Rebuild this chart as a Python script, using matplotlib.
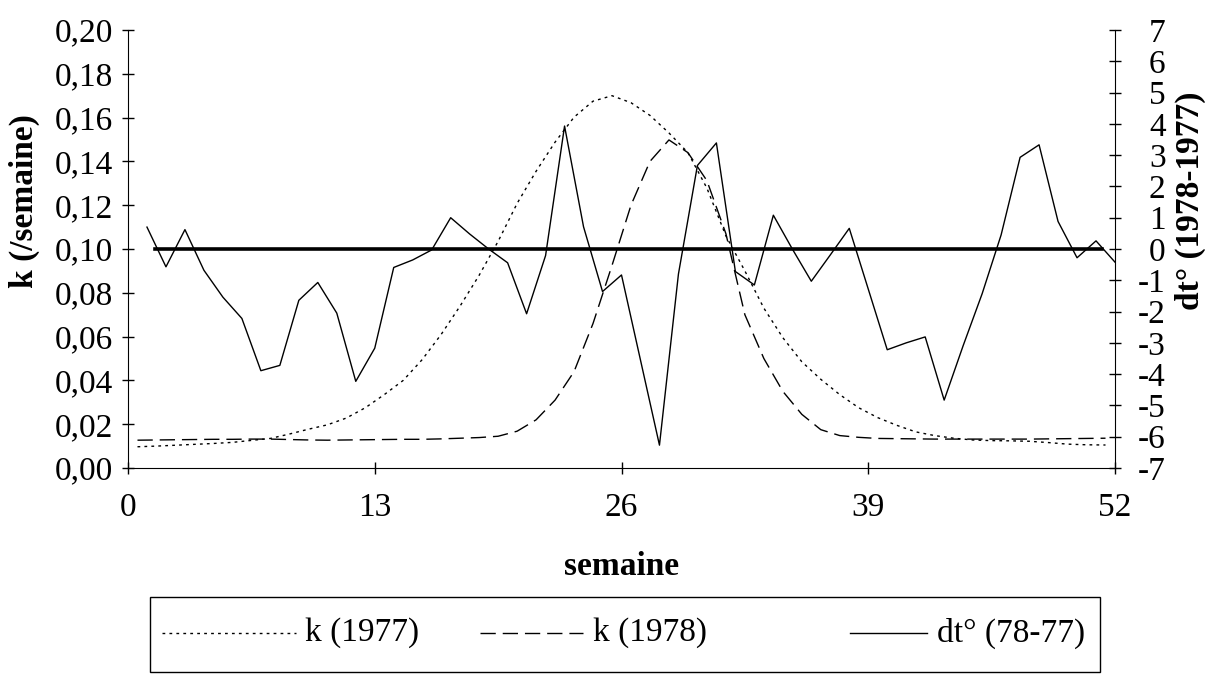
import matplotlib.pyplot as plt
import numpy as np
from matplotlib.lines import Line2D
from matplotlib.patches import Rectangle

plt.rcParams['font.family'] = ['Liberation Serif', 'DejaVu Serif']

# semaines 1..52 pour dt, courbes k tracees a mi-semaine
weeks = np.arange(1, 53)
k_weeks = np.arange(52) + 0.5

k_1977 = [0.0097, 0.0100, 0.0104, 0.0108, 0.0112, 0.0117, 0.0126, 0.0135, 0.0155, 0.0177,
          0.0197, 0.0228, 0.0275, 0.0335, 0.0400, 0.0495, 0.0610, 0.0740, 0.0880, 0.1035,
          0.1208, 0.1355, 0.1488, 0.1602, 0.1675, 0.1700, 0.1668, 0.1610, 0.1530, 0.1440,
          0.1278, 0.1060, 0.0900, 0.0730, 0.0595, 0.0485, 0.0405, 0.0335, 0.0275, 0.0230,
          0.0195, 0.0165, 0.0148, 0.0136, 0.0128, 0.0125, 0.0124, 0.0122, 0.0116, 0.0109,
          0.0106, 0.0105]

k_1978 = [0.0127, 0.0128, 0.0129, 0.0130, 0.0131, 0.0131, 0.0132, 0.0132, 0.0130, 0.0128,
          0.0127, 0.0128, 0.0129, 0.0130, 0.0131, 0.0131, 0.0133, 0.0136, 0.0139, 0.0145,
          0.0168, 0.0220, 0.0310, 0.0440, 0.0660, 0.0925, 0.1200, 0.1400, 0.1498, 0.1440,
          0.1312, 0.1070, 0.0700, 0.0500, 0.0350, 0.0245, 0.0175, 0.0148, 0.0140, 0.0135,
          0.0134, 0.0133, 0.0132, 0.0132, 0.0132, 0.0132, 0.0132, 0.0132, 0.0133, 0.0134,
          0.0135, 0.0136]

dt_7877 = [0.70, -0.57, 0.62, -0.68, -1.54, -2.22, -3.89, -3.72, -1.64, -1.07,
           -2.05, -4.23, -3.17, -0.59, -0.35, -0.03, 1.00, 0.48, 0.00, -0.44,
           -2.07, -0.21, 3.93, 0.71, -1.36, -0.83, -3.55, -6.27, -0.80, 2.67,
           3.39, -0.72, -1.15, 1.08, 0.00, -1.03, -0.19, 0.66, -1.28, -3.22,
           -3.00, -2.81, -4.83, -3.09, -1.43, 0.45, 2.93, 3.33, 0.88, -0.28,
           0.26, -0.42]

zero_weeks = [1.4, 51.3]
zero_line = [0, 0]

k_ticks = [0.00, 0.02, 0.04, 0.06, 0.08, 0.10, 0.12, 0.14, 0.16, 0.18, 0.20]
dt_ticks = list(range(-7, 8))
week_ticks = [0, 13, 26, 39, 52]

legend_labels = ['k (1977)', 'k (1978)', 'dt° (78-77)']
line_dashes = [(2, 3), (11, 5), None]

fs = 24
W, H = 1205, 675

fig = plt.figure(figsize=(W / 100, H / 100), dpi=100)
ax = fig.add_axes([128 / W, 1 - 468 / H, 987 / W, 438 / H])
ax2 = ax.twinx()

ax.plot(k_weeks, k_1977, color='black', lw=1, dashes=line_dashes[0])
ax.plot(k_weeks, k_1978, color='black', lw=1, dashes=line_dashes[1])
ax2.plot(weeks, dt_7877, color='black', lw=1)
ax2.plot(zero_weeks, zero_line, color='black', lw=2.6)

ax.set_xlim(0, 52)
ax.set_ylim(0, 0.2)
ax2.set_ylim(-7, 7)

ax.set_xticks(week_ticks)
ax.set_xticklabels([str(w) for w in week_ticks], fontsize=fs)
ax.set_yticks(k_ticks)
ax.set_yticklabels([f"{v:.2f}".replace('.', ',') for v in k_ticks], fontsize=fs)
ax2.set_yticks(dt_ticks)
ax2.set_yticklabels([str(v) for v in dt_ticks], fontsize=fs)

ax.tick_params(axis='both', direction='inout', length=9, width=1)
ax.tick_params(axis='y', pad=6)
ax.tick_params(axis='x', pad=13)
ax2.tick_params(axis='y', direction='inout', length=9, width=1, pad=32)
for lab in ax2.get_yticklabels():
    lab.set_ha('right')

for a in (ax, ax2):
    a.spines['top'].set_visible(False)
ax2.spines['left'].set_visible(False)
ax2.spines['bottom'].set_visible(False)
ax.spines['right'].set_visible(False)

ax.set_xlabel('semaine', fontsize=fs, fontweight='bold')
ax.xaxis.set_label_coords(0.5, -0.19)
ax.set_ylabel('k (/semaine)', fontsize=fs, fontweight='bold')
ax.yaxis.set_label_coords(-0.089, 0.61)
ax2.set_ylabel('dt° (1978-1977)', fontsize=fs, fontweight='bold', rotation=90)
ax2.yaxis.set_label_coords(1.061, 0.61)

# legende dessinee a la main dans un cadre sous le graphique
fig.add_artist(Rectangle((150 / W, 1 - 672 / H), 950 / W, 75 / H,
                         transform=fig.transFigure, fill=False, ec='black', lw=1))
sample_x = [(162, 296, 305), (480, 583, 593), (850, 927, 937)]
ly = 1 - 633 / H
for (x0, x1, xt), lab, d in zip(sample_x, legend_labels, line_dashes):
    ln = Line2D([x0 / W, x1 / W], [ly, ly], transform=fig.transFigure,
                color='black', lw=1)
    if d is not None:
        ln.set_dashes(d)
    fig.add_artist(ln)
    fig.text(xt / W, ly, lab, fontsize=fs, va='center', ha='left')

fig.savefig('out.png', dpi=100)
